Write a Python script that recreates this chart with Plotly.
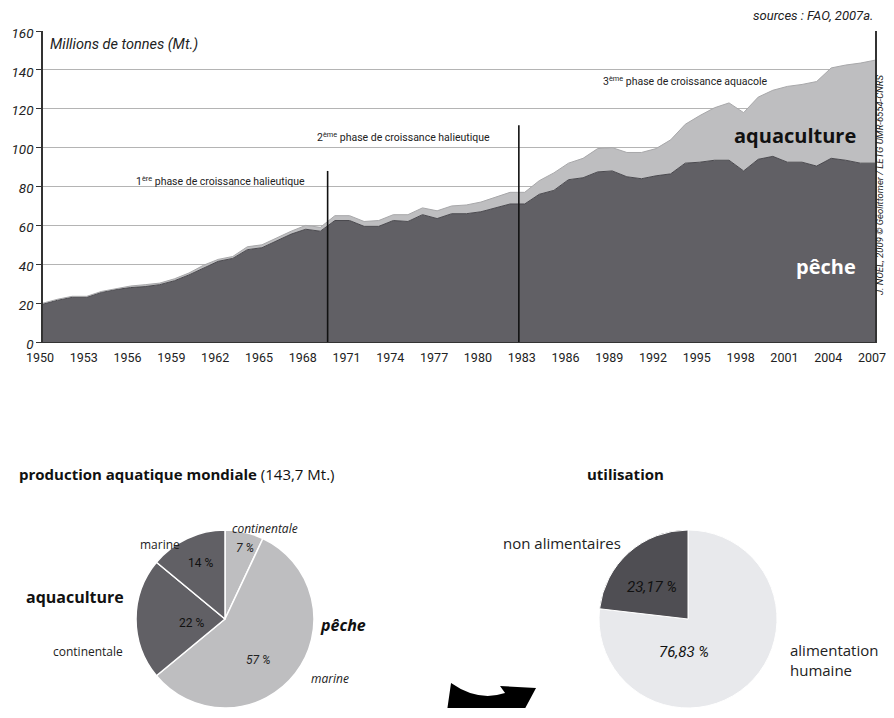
import plotly.graph_objects as go

OFF = 8  # page body margin
W, H = 894 - 2 * OFF, 718 - 2 * OFF - 2

years = list(range(1950, 2008))
peche = [19.5, 21.5, 23, 23, 25.5, 27, 28, 28.5, 29.5, 31.5,
         34.5, 38, 41.5, 43, 47.5, 48.5, 52, 55.5, 58, 57,
         62.5, 62.5, 59.5, 59.5, 62.5, 62, 65.5, 63.5, 66, 66,
         67, 69, 71, 71, 76, 78, 83.5, 84.5, 87.5, 88,
         85, 84, 85.5, 86.5, 92, 92.5, 93.5, 93.5, 88, 94,
         95.5, 92.5, 92.5, 90.5, 94.5, 93.5, 92, 92]
aquaculture = [0.5, 0.5, 0.5, 0.5, 0.5, 0.5, 0.8, 1.0, 0.8, 1.0,
               1.0, 1.5, 1.0, 1.0, 1.5, 1.5, 1.5, 1.5, 2.0, 2.0,
               2.5, 2.5, 2.5, 3.0, 3.0, 3.5, 3.5, 4.0, 4.0, 4.5,
               5.0, 5.5, 6.0, 6.0, 7.0, 9.0, 8.5, 10.0, 12.0, 12.0,
               12.5, 13.5, 14.0, 17.5, 20.0, 24.0, 27.0, 29.5, 30.0, 32.0,
               34.0, 39.0, 40.0, 43.5, 46.5, 49.0, 51.5, 53.0]

x_ticks = list(range(1950, 2008, 3))
y_ticks = [0, 20, 40, 60, 80, 100, 120, 140, 160]

phase_years = [1969.5, 1982.6]
phase_tops = [88, 111.5]

prod_labels = ["pêche continentale", "pêche marine", "aquaculture continentale", "aquaculture marine"]
prod_values = [7, 57, 22, 14]
util_labels = ["alimentation humaine", "non alimentaires"]
util_values = [76.83, 23.17]

DARK = "#616065"
LIGHT = "#bebec0"
PALE = "#e8e9ec"
COND = "Liberation Sans Narrow, Roboto, sans-serif"
MAIN = "Open Sans, sans-serif"

def px(x):
    return (x - OFF) / W

def py(y):
    return 1 - (y - OFF) / H

fig = go.Figure()

fig.add_trace(go.Scatter(x=years, y=peche, stackgroup="s", mode="lines",
                         line=dict(color="#4a494e", width=1), fillcolor=DARK,
                         name="pêche", showlegend=False))
fig.add_trace(go.Scatter(x=years, y=aquaculture, stackgroup="s", mode="lines",
                         line=dict(color="#a8a8aa", width=1), fillcolor=LIGHT,
                         name="aquaculture", showlegend=False))
for yr, top in zip(phase_years, phase_tops):
    fig.add_trace(go.Scatter(x=[yr, yr], y=[0, top], mode="lines",
                             line=dict(color="#111", width=1.6), showlegend=False,
                             hoverinfo="skip"))

# pies
fig.add_trace(go.Pie(labels=prod_labels, values=prod_values, sort=False,
                     direction="clockwise", rotation=0, textinfo="none",
                     marker=dict(colors=[LIGHT, LIGHT, DARK, DARK],
                                 line=dict(color="white", width=1.5)),
                     domain=dict(x=[px(136), px(314)], y=[0, py(530)]),
                     showlegend=False))
fig.add_trace(go.Pie(labels=util_labels, values=util_values, sort=False,
                     direction="clockwise", rotation=0, textinfo="none",
                     marker=dict(colors=[PALE, "#4f4e53"],
                                 line=dict(color="white", width=1)),
                     domain=dict(x=[px(599), px(777)], y=[0, py(530)]),
                     showlegend=False))

fig.update_layout(
    width=W, height=H, margin=dict(l=0, r=0, t=0, b=0, autoexpand=False),
    paper_bgcolor="white", plot_bgcolor="white",
    font=dict(family=MAIN, color="#222"),
    xaxis=dict(domain=[px(43), px(875)], range=[1950, 2007], tickvals=x_ticks,
               showgrid=False, showline=True, linecolor="#333", linewidth=1,
               ticks="", ticklabelstandoff=4, ticklabelshift=-3,
               ticklabeloverflow="allow", automargin=False,
               tickfont=dict(family=COND, size=12.5, color="#222"),
               zeroline=False, fixedrange=True),
    yaxis=dict(domain=[py(342), py(31)], range=[0, 160], tickvals=y_ticks,
               showgrid=True, gridcolor="#b4b4b4", gridwidth=1.2,
               showline=True, linecolor="#333", linewidth=1.5, mirror=True,
               ticks="outside", ticklen=5, tickcolor="#333", automargin=False,
               ticklabelshift=2,
               tickfont=dict(family=COND, size=13.5, color="#222", style="italic"),
               zeroline=False, fixedrange=True),
)

ann = []
def A(x, y, text, size=12, color="#222", family=COND, style="normal", weight="normal",
      xanchor="center", yanchor="middle", textangle=0, align="center"):
    ann.append(dict(x=px(x), y=py(y), xref="paper", yref="paper", text=text,
                    showarrow=False, xanchor=xanchor, yanchor=yanchor, textangle=textangle,
                    align=align,
                    font=dict(size=size, color=color, family=family, style=style, weight=weight)))

A(48, 45, "Millions de tonnes (Mt.)", size=14.5, style="italic", xanchor="left")
A(875, 15, "sources : FAO, 2007a.", size=13, style="italic", xanchor="right")
A(879, 185, "J. NOËL, 2009 © Géolittomer / LETG UMR-6554-CNRS", size=9.5, style="italic",
  textangle=-90)
A(220, 181, "1<sup>ère</sup> phase de croissance halieutique", size=10.5)
A(403, 137, "2<sup>ème</sup> phase de croissance halieutique", size=10.5)
A(685, 81, "3<sup>ème</sup> phase de croissance aquacole", size=10.5)
A(795, 135, "aquaculture", size=20, family=MAIN, weight="bold", color="#111")
A(826, 266, "pêche", size=20, family=MAIN, weight="bold", color="white")

A(17, 474, "<b>production aquatique mondiale</b> (143,7 Mt.)", size=15, family=MAIN,
  xanchor="left", color="#111")
A(625, 474, "<b>utilisation</b>", size=15, family=MAIN, color="#111")

A(265, 528, "continentale", size=12, style="italic", family=MAIN)
A(245, 548, "7 %", size=12, style="italic")
A(160, 544, "marine", size=12, family=MAIN)
A(200, 563, "14 %", size=12, color="#111")
A(75, 597, "aquaculture", size=16, family=MAIN, weight="bold", color="#111")
A(191, 623, "22 %", size=12, color="#111")
A(88, 651, "continentale", size=12, family=MAIN)
A(343, 625, "pêche", size=16, family=MAIN, weight="bold", style="italic", color="#111")
A(258, 660, "57 %", size=12, style="italic")
A(330, 678, "marine", size=12, family=MAIN, style="italic")

A(562, 543, "non alimentaires", size=15, family=MAIN)
A(652, 587, "23,17 %", size=15, style="italic", color="#111")
A(684, 652, "76,83 %", size=15, style="italic", color="#111")
A(788, 660, "alimentation<br>humaine", size=15, family=MAIN, xanchor="left", align="left")

fig.update_layout(annotations=ann)

# curved arrow
def P(x, y):
    return f"{px(x):.4f},{py(y):.4f}"
path = ("M " + P(451, 683) + " Q " + P(478, 702) + " " + P(505, 693) +
        " L " + P(500, 686) + " L " + P(536, 688) + " L " + P(521, 716) +
        " L " + P(516, 709) + " Q " + P(482, 727) + " " + P(447, 711) + " Z")
fig.add_shape(type="path", path=path, xref="paper", yref="paper",
              fillcolor="black", line=dict(color="black", width=0))

fig.write_html("out.html")
